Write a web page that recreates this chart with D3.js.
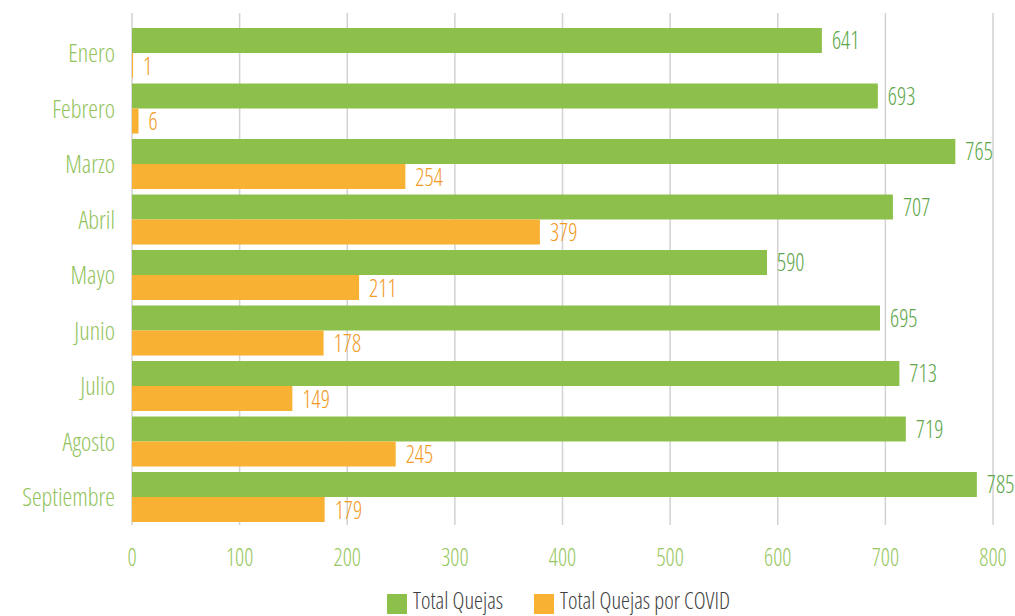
<!DOCTYPE html>
<html><head><meta charset="utf-8">
<script src="https://cdn.jsdelivr.net/npm/d3@7"></script>
<style>
html,body{margin:0;padding:0;background:#fff;}
text{font-family:"Open Sans","Liberation Sans Narrow",sans-serif;font-stretch:75%;font-weight:300;}
</style></head>
<body><svg id="chart" width="1015" height="616"></svg>
<script>
const months = ["Enero","Febrero","Marzo","Abril","Mayo","Junio","Julio","Agosto","Septiembre"];
const totalQuejas = [641,693,765,707,590,695,713,719,785];
const quejasCovid = [1,6,254,379,211,178,149,245,179];
const xTicks = [0,100,200,300,400,500,600,700,800];
const seriesNames = ["Total Quejas","Total Quejas por COVID"];

const C = {green:"#8DC04B", orange:"#F8B133", greenLbl:"#5DA64A", orangeLbl:"#F29A1F",
           cat:"#92C35B", tick:"#97C760", grid:"#D2D2D2", legend:"#404040"};
const FS = 25, SX_NUM = 0.9, SX_TXT = 0.98, SX_LEG = 0.96;

const svg = d3.select("#chart");
const x = d3.scaleLinear().domain([0,800]).range([132,993]);
const y = d3.scaleBand().domain(months).range([25.25,524.75]).paddingInner(0.099).paddingOuter(0.0495);
const sub = d3.scaleBand().domain([0,1]).range([0,y.bandwidth()]);

function label(g, txt, px, py, sx, anchor, color, fs){
  return g.append("text").attr("transform",`translate(${px},${py}) scale(${sx},1)`)
    .attr("text-anchor",anchor).attr("fill",color).attr("font-size",fs||FS).text(txt);
}

// gridlines
svg.append("g").selectAll("line").data(xTicks).join("line")
  .attr("x1",d=>x(d)).attr("x2",d=>x(d)).attr("y1",13).attr("y2",525)
  .attr("stroke",C.grid).attr("stroke-width",1.5);

// tick labels
const tg = svg.append("g");
xTicks.forEach(t=>label(tg, t, x(t), 566, SX_NUM, "middle", C.tick));

// bars
const series = [totalQuejas, quejasCovid];
const colors = [C.green, C.orange];
const lblColors = [C.greenLbl, C.orangeLbl];
const bg = svg.append("g");
const lg = svg.append("g");
series.forEach((vals,si)=>{
  bg.selectAll(null).data(months).join("rect")
    .attr("x",x(0)).attr("y",m=>y(m)+sub(si))
    .attr("width",(m,i)=>x(vals[i])-x(0)).attr("height",sub.bandwidth())
    .attr("fill",colors[si]);
  months.forEach((m,i)=>{
    label(lg, vals[i], x(vals[i])+10, y(m)+sub(si)+sub.bandwidth()/2+9, SX_NUM, "start", lblColors[si]);
  });
});

// category labels
const cg = svg.append("g");
months.forEach(m=>label(cg, m, 115, y(m)+y.bandwidth()/2+9, SX_TXT, "end", C.cat));

// legend
const leg = svg.append("g");
const legX = [387, 534];
seriesNames.forEach((n,i)=>{
  leg.append("rect").attr("x",legX[i]).attr("y",594).attr("width",20).attr("height",20).attr("fill",colors[i]);
  label(leg, n, legX[i]+26, 609, SX_LEG, "start", C.legend, 23.5);
});
</script></body></html>
